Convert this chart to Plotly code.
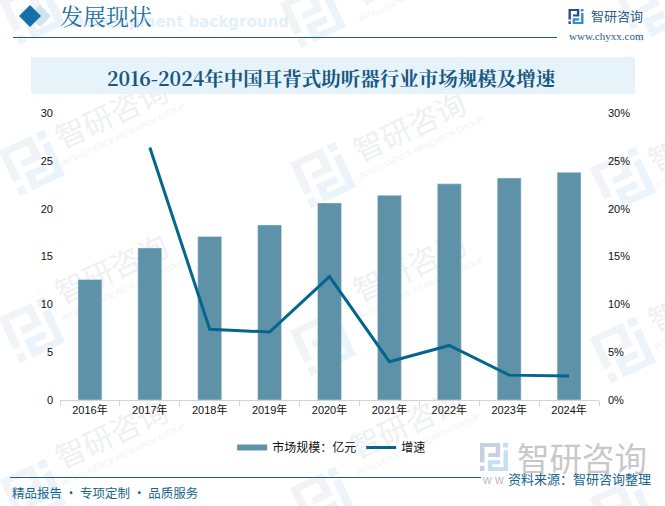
"""2016-2024年中国耳背式助听器行业市场规模及增速."""

import math

import plotly.graph_objects as go

anos = ["2016年", "2017年", "2018年", "2019年", "2020年", "2021年", "2022年", "2023年", "2024年"]
mercado = [12.6, 15.9, 17.1, 18.3, 20.6, 21.4, 22.6, 23.2, 23.8]
crescimento = [None, 26.4, 7.4, 7.1, 12.9, 4.0, 5.7, 2.6, 2.5]

ticks_esq = [0, 5, 10, 15, 20, 25, 30]
ticks_dir = [0, 5, 10, 15, 20, 25, 30]
ticks_dir_txt = ["0%", "5%", "10%", "15%", "20%", "25%", "30%"]

W, H = 665, 506
SERIF = "Noto Serif CJK SC, Liberation Serif, Noto Sans CJK SC"
SANS = "Noto Sans CJK SC"
AZUL = "#1A5E8C"

# centros das marcas d'água (px)
marcas = [(113, 117), (113, 272), (113, 437), (411, -27), (411, 130), (411, 270), (408, 427), (706, 140), (706, 300)]
logos = [(32, 163), (32, 330), (33, 492), (32, 12), (323, 175), (323, 343), (323, 500), (313, 15), (623, 180), (623, 350), (623, 510), (650, 10)]

# peças do logo, em unidades de um quadrado 0..1
PECA_A = [(0, 0), (0.72, 0), (0.72, 0.5), (0.3, 0.5), (0.3, 0.36), (0.56, 0.36), (0.56, 0.14), (0.16, 0.14), (0.16, 0.7), (0, 0.7)]
PONTO_A = [(0, 0.82), (0.16, 0.82), (0.16, 1), (0, 1)]
PECA_B = [(0.84, 0.26), (1, 0.26), (1, 1), (0.28, 1), (0.28, 0.62), (0.72, 0.62), (0.72, 0.76), (0.44, 0.76), (0.44, 0.86), (0.84, 0.86)]
PONTO_B = [(0.82, 0), (1, 0), (1, 0.16), (0.82, 0.16)]


def px(x, y):
    return dict(xref="paper", yref="paper", x=(x - 60) / 539, y=(400 - y) / 287, yanchor="middle")


def retangulo(x0, y0, x1, y1, cor, camada="below"):
    return dict(
        type="rect", xref="paper", yref="paper", layer=camada,
        x0=(x0 - 60) / 539, x1=(x1 - 60) / 539,
        y0=(400 - y0) / 287, y1=(400 - y1) / 287,
        line_width=0, fillcolor=cor,
    )


def poligono(pts, cor, camada="below"):
    caminho = ""
    for i, (a, b) in enumerate(pts):
        caminho += f"{'M' if i == 0 else 'L'}{(a - 60) / 539} {(400 - b) / 287} "
    return dict(type="path", xref="paper", yref="paper", path=caminho + "Z",
                line_width=0, fillcolor=cor, layer=camada)


def logo(cx, cy, lado, angulo, cor_a, cor_b, camada="below"):
    rad = math.radians(angulo)
    saida = []
    for pecas, cor in (((PECA_A, PONTO_A), cor_a), ((PECA_B, PONTO_B), cor_b)):
        for peca in pecas:
            pts = []
            for u, v in peca:
                dx, dy = (u - 0.5) * lado, (v - 0.5) * lado
                pts.append((cx + dx * math.cos(rad) - dy * math.sin(rad),
                            cy + dx * math.sin(rad) + dy * math.cos(rad)))
            saida.append(poligono(pts, cor, camada))
    return saida


def texto_fundo(cx, cy, texto, tamanho, cor, familia):
    forma = retangulo(cx - 100, cy - 20, cx + 100, cy + 20, "rgba(0,0,0,0)")
    forma["label"] = dict(text=texto, textangle=-25, textposition="middle center",
                          font=dict(family=familia, size=tamanho, color=cor))
    return forma


def losango(cx, cy, r, cor):
    return poligono([(cx - r, cy), (cx, cy - r), (cx + r, cy), (cx, cy + r)], cor)


fig = go.Figure()
fig.add_bar(x=anos, y=mercado, name="市场规模：亿元", marker_color="#5E92A9", width=0.4, showlegend=False)
# entrada de legenda retangular, como no original
fig.add_scatter(x=[None], y=[None], name="市场规模：亿元", mode="lines",
                line=dict(color="#5E92A9", width=6))
fig.add_scatter(x=anos, y=crescimento, name="增速", yaxis="y2", mode="lines",
                line=dict(color="#04668C", width=3), connectgaps=False)

formas = []
for lx, ly in logos:
    formas += logo(lx, ly, 50, -25, "#F1F3F7", "#EAF4FA")
for mx, my in marcas:
    formas.append(texto_fundo(mx, my, "智研咨询", 30, "#EFF0F2", SANS))
    formas.append(texto_fundo(mx + 10, my + 17, "INTELLIGENCE RESEARCH GROUP", 8, "#F1F2F4", "Liberation Sans"))
formas += [
    retangulo(31, 57, 635, 94, "#E7F3FB"),
    retangulo(13, 37, 557, 38, AZUL),
    retangulo(10, 477, 481, 478, AZUL),
    losango(40, 16, 11, "#CFE3F0"),
    losango(30, 16, 11, "#1570A8"),
]
formas += logo(576, 16.5, 15, 0, "#2B4C8C", "#2F8FD0")
formas += logo(494, 457, 28, 0, "#C9D0E0", "#C5E0F2")

notas = [
    dict(**px(291, 22), text="<b>Development background</b>", showarrow=False, xanchor="right",
         font=dict(family="DejaVu Sans, Liberation Sans", size=15, color="#E3F0FA")),
    dict(**px(58, 16), text="发展现状", showarrow=False, xanchor="left",
         font=dict(family=SERIF, size=23, color="#1A6FA3")),
    dict(**px(332, 78), text="<b>2016-2024年中国耳背式助听器行业市场规模及增速</b>", showarrow=False,
         font=dict(family=SERIF, size=19.5, color="#17597F")),
    dict(**px(589, 16), text="智研咨询", showarrow=False, xanchor="left",
         font=dict(family=SANS, size=13, color="#2B5C8C")),
    dict(**px(567, 36), text="www.chyxx.com", showarrow=False, xanchor="left",
         font=dict(family="Liberation Serif", size=11, color="#2B5C8C")),
    dict(**px(10, 492), text="精品报告 · 专项定制 · 品质服务", showarrow=False, xanchor="left",
         font=dict(family=SANS, size=12.5, color="#17648F")),
    dict(**px(515, 456), text="智研咨询", showarrow=False, xanchor="left",
         font=dict(family=SANS, size=32.5, color="#C8C8C8")),
    dict(**px(480, 480), text="w w", showarrow=False, xanchor="left",
         font=dict(family="Liberation Sans", size=12, color="#BDBDBD")),
    dict(**px(506, 478), text="资料来源：智研咨询整理", showarrow=False, xanchor="left",
         font=dict(family=SANS, size=13, color="#17648F")),
]

fig.update_layout(
    width=W, height=H,
    margin=dict(l=60, r=66, t=113, b=106),
    paper_bgcolor="white", plot_bgcolor="rgba(0,0,0,0)",
    font=dict(family="Liberation Sans, " + SANS, size=11, color="#111111"),
    bargap=0.6,
    xaxis=dict(showgrid=False, showline=True, linecolor="#D4D4D4", ticks="outside",
               ticklen=5, tickcolor="#D4D4D4", tickson="boundaries",
               tickfont=dict(family="Liberation Sans, " + SANS, size=11)),
    yaxis=dict(range=[0, 30], tickvals=ticks_esq, showgrid=False, zeroline=False,
               ticks="", ticklabelstandoff=6),
    yaxis2=dict(range=[0, 30], overlaying="y", side="right", tickvals=ticks_dir,
                ticktext=ticks_dir_txt, showgrid=False, zeroline=False, ticks="",
                ticklabelstandoff=8),
    legend=dict(orientation="h", x=0.504, xanchor="center", y=-0.115, yanchor="top",
                font=dict(family=SANS, size=12), itemwidth=30, bgcolor="rgba(0,0,0,0)"),
    shapes=formas,
    annotations=notas,
)

fig.write_html("out.html", config={"displayModeBar": False},
               post_script="document.body.style.margin='0';")
